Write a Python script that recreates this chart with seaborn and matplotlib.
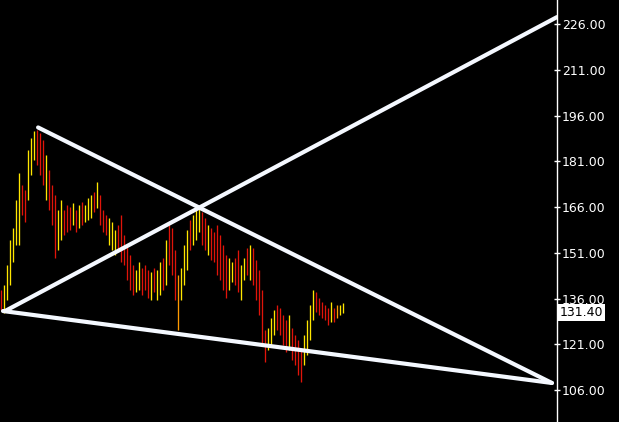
import matplotlib
matplotlib.use("Agg")
import matplotlib.pyplot as plt
import seaborn as sns
import pandas as pd

# precios por barra (máximo / mínimo)
maximos = [138.8, 140.4, 147.0, 155.2, 159.1, 168.3, 177.1, 173.2, 171.6, 184.7,
           188.6, 190.9, 191.2, 190.3, 188.0, 183.1, 178.1, 173.2, 169.9, 165.0,
           168.3, 165.0, 166.6, 166.0, 167.3, 165.0, 166.6, 167.6, 166.6, 168.9,
           169.9, 170.9, 174.2, 169.9, 165.0, 163.4, 162.4, 161.1, 158.5, 160.1,
           163.4, 156.8, 153.5, 150.3, 147.0, 145.4, 148.0, 146.0, 147.0, 145.4,
           144.7, 146.0, 145.4, 148.0, 149.3, 155.2, 160.1, 159.1, 151.9, 143.7,
           146.0, 153.5, 158.5, 161.7, 163.4, 165.0, 165.7, 164.4, 162.4, 160.1,
           159.1, 157.8, 160.1, 156.8, 153.5, 150.3, 149.3, 148.0, 149.3, 151.9,
           147.0, 149.3, 152.6, 153.5, 152.6, 148.6, 145.4, 138.8, 125.7, 126.3,
           129.6, 132.2, 133.9, 132.9, 130.6, 128.9, 130.6, 126.3, 124.0, 122.4,
           119.1, 124.0, 128.9, 133.9, 138.8, 138.1, 136.2, 134.9, 133.9, 132.9,
           134.9, 132.9, 133.9, 133.9, 134.6]
minimos = [132.2, 131.2, 135.5, 140.4, 148.0, 153.5, 153.5, 163.4, 161.1, 168.3,
           176.5, 181.4, 179.8, 176.5, 173.2, 168.3, 165.0, 160.1, 149.3, 151.9,
           155.2, 156.8, 157.8, 158.5, 160.1, 157.8, 159.1, 160.1, 161.1, 161.7,
           162.4, 164.4, 165.7, 160.1, 157.8, 156.8, 153.5, 151.9, 150.3, 151.9,
           148.0, 147.0, 142.1, 138.8, 137.1, 138.1, 138.8, 137.1, 138.8, 136.2,
           135.5, 138.1, 135.5, 137.1, 138.8, 140.4, 147.0, 143.7, 135.5, 125.7,
           135.5, 140.4, 145.4, 151.9, 153.5, 155.2, 157.8, 153.5, 151.9, 150.3,
           148.6, 148.0, 143.7, 142.1, 138.8, 136.2, 138.8, 141.4, 140.4, 138.1,
           135.5, 142.1, 143.7, 142.1, 140.4, 135.5, 130.6, 120.7, 115.2, 119.1,
           120.7, 124.0, 125.7, 124.0, 120.7, 118.5, 119.1, 115.8, 114.2, 110.9,
           108.6, 114.2, 117.5, 122.4, 128.9, 131.6, 130.6, 129.6, 128.9, 127.3,
           128.3, 128.3, 129.6, 130.6, 131.2]
# y = sube (amarillo), r = baja (rojo), o = naranja
sentido = ("ryyyyyyrryyyrrryrrryyrrryryryyyryrrryyyrrrrrryyrrryryyryrrroyyyryyyrryrrrrrryyrryyryrrrrryyyrrrryrrrryyyyrrrrryroyy")

ultimo = 131.40
ticks_y = [106, 121, 136, 151, 166, 181, 196, 211, 226]

# líneas de tendencia: (x0, y0, x1, y1) en índice de barra
lineas = {
    "soporte_alcista": (1.2, 131.9, 185.2, 228.3),
    "resistencia": (12.2, 192.1, 183.5, 108.3),
    "soporte": (0.5, 131.9, 183.5, 108.3),
}

sns.set_style("dark")
fig = plt.figure(figsize=(6.19, 4.22), dpi=100, facecolor="black")
ax = fig.add_axes([0, 0, 557 / 619, 1])
ax.set_facecolor("black")

colores = {"y": "#ffe600", "r": "#e0140a", "o": "#ff9a00"}
xs = list(range(len(maximos)))
ax.vlines(xs, minimos, maximos, colors=[colores[c] for c in sentido], linewidth=0.95)

for nombre, (x0, y0, x1, y1) in lineas.items():
    df = pd.DataFrame({"x": [x0, x1], "y": [y0, y1]})
    sns.lineplot(data=df, x="x", y="y", ax=ax, color="#f4f8ff", linewidth=3.0,
                 solid_capstyle="round")

ax.set_xlim(-0.5, 185.2)
ax.set_ylim(95.5, 233.9)
ax.set_xlabel("")
ax.set_ylabel("")
ax.set_xticks([])
ax.yaxis.tick_right()
ax.set_yticks(ticks_y)
ax.set_yticklabels([f"{t:.2f}" for t in ticks_y])
ax.tick_params(axis="y", colors="white", labelcolor="white", labelsize=9,
               direction="inout", length=5, width=1, pad=1)
ax.grid(False)
for lado in ["top", "left", "bottom"]:
    ax.spines[lado].set_visible(False)
ax.spines["right"].set_visible(True)
ax.spines["right"].set_color("white")
ax.spines["right"].set_linewidth(1)

ax.text(1.005, ultimo, f"{ultimo:.2f}", transform=ax.get_yaxis_transform(),
        color="black", fontsize=9, va="center", ha="left",
        bbox=dict(facecolor="white", edgecolor="none", pad=1.2))

fig.savefig("out.png", dpi=100, facecolor="black")
